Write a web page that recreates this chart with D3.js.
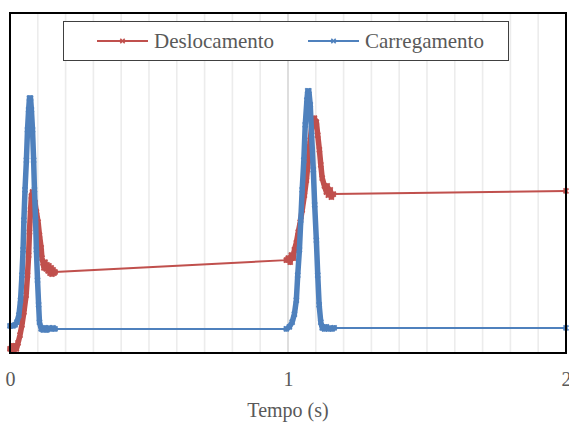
<!DOCTYPE html>
<html>
<head>
<meta charset="utf-8">
<script src="https://cdn.jsdelivr.net/npm/d3@7"></script>
<style>
  body { margin: 0; background: #fff; }
  text { font-family: "Liberation Serif", "Times New Roman", serif; fill: #595959; }
</style>
</head>
<body>
<div id="container"></div>
<script>
const w = 569;
const h = 422;

// series names
const seriesNames = ["Deslocamento", "Carregamento"];
const seriesColors = ["#C0504D", "#4F81BD"];

// Deslocamento: time (s) and value (arbitrary units)
const deslTime = [0.000, 0.007, 0.013, 0.018, 0.023, 0.029, 0.036, 0.043, 0.050, 0.058,
  0.063, 0.067, 0.070, 0.074, 0.077, 0.081, 0.085, 0.090, 0.095, 0.101,
  0.106, 0.112, 0.115, 0.119, 0.122, 0.126, 0.130, 0.133, 0.137, 0.140,
  0.144, 0.148, 0.151, 0.155, 0.158, 0.162,
  0.994, 1.001, 1.008, 1.012, 1.019, 1.023, 1.030, 1.037, 1.044, 1.051,
  1.059, 1.066, 1.073, 1.080, 1.087, 1.095, 1.102, 1.107, 1.113, 1.118,
  1.123, 1.131, 1.138, 1.141, 1.145, 1.152, 1.156, 1.163,
  2.000];
const deslValue = [0.9, 1.8, 0.6, 1.8, 0.9, 2.7, 5.0, 8.0, 11.8, 16.8,
  22.7, 28.6, 35.4, 41.9, 46.0, 47.2, 46.0, 44.0, 41.3, 38.3,
  34.5, 30.7, 27.7, 26.3, 24.8, 26.5, 24.5, 25.7, 23.9, 25.4,
  23.3, 24.8, 23.0, 24.2, 23.3, 23.6,
  27.1, 27.7, 26.5, 28.6, 27.7, 30.1, 32.2, 35.4, 38.3, 41.9,
  46.3, 50.7, 56.6, 62.5, 67.8, 69.0, 67.8, 64.0, 59.6, 55.2,
  51.3, 49.0, 47.2, 49.0, 46.3, 47.8, 45.7, 46.6,
  47.5];

// Carregamento
const carrTime = [0.000, 0.011, 0.018, 0.025, 0.032, 0.038, 0.043, 0.047, 0.050, 0.054,
  0.059, 0.063, 0.067, 0.070, 0.074, 0.077, 0.081, 0.085, 0.088, 0.092,
  0.095, 0.099, 0.103, 0.106, 0.112, 0.119, 0.126, 0.133, 0.140, 0.148,
  0.155, 0.162,
  0.994, 1.005, 1.015, 1.023, 1.030, 1.035, 1.041, 1.046, 1.051, 1.057,
  1.062, 1.068, 1.071, 1.075, 1.080, 1.085, 1.091, 1.096, 1.102, 1.107,
  1.112, 1.118, 1.123, 1.131, 1.138, 1.145, 1.152, 1.159, 1.166,
  2.000];
const carrValue = [7.7, 7.7, 8.0, 8.8, 10.9, 15.3, 22.7, 30.1, 38.9, 47.8,
  56.6, 65.5, 71.4, 74.9, 74.9, 71.4, 65.5, 56.6, 47.8, 38.9,
  30.1, 21.2, 13.9, 8.8, 6.8, 6.5, 7.1, 6.5, 7.1, 6.8,
  7.1, 6.8,
  6.8, 7.4, 8.8, 11.2, 15.3, 22.7, 30.1, 38.9, 47.8, 56.6,
  67.0, 74.3, 77.0, 77.0, 72.9, 64.0, 53.7, 43.4, 33.0, 22.7,
  13.9, 8.8, 7.1, 6.8, 7.4, 6.8, 7.1, 6.8, 7.1,
  7.1];

const xTicks = [0, 1, 2];
const xTitle = "Tempo (s)";

const plot = { left: 10, right: 566, top: 13, bottom: 353 };

const svg = d3.select("#container").append("svg")
  .attr("width", w).attr("height", h);

const x = d3.scaleLinear().domain([0, 2]).range([plot.left, plot.right]);
const y = d3.scaleLinear().domain([0, 100]).range([352, plot.top]);

// vertical gridlines, minor every 0.1, major at 1
svg.append("g").selectAll("line")
  .data(x.ticks(20).filter(d => d > 0 && d < 2))
  .enter().append("line")
  .attr("x1", d => x(d)).attr("x2", d => x(d))
  .attr("y1", plot.top).attr("y2", plot.bottom)
  .attr("stroke", d => Math.abs(d - 1) < 1e-9 ? "#d6d6d6" : "#ececec")
  .attr("stroke-width", 1.6);

// series
const series = [
  { name: seriesNames[0], color: seriesColors[0], pts: deslTime.map((t, i) => [t, deslValue[i]]) },
  { name: seriesNames[1], color: seriesColors[1], pts: carrTime.map((t, i) => [t, carrValue[i]]) }
];

const line = d3.line().x(d => x(d[0])).y(d => y(d[1]));

// split into densely sampled bursts (gaps in acquisition are drawn thin)
function bursts(pts) {
  const out = [];
  let cur = [pts[0]];
  for (let i = 1; i < pts.length; i++) {
    if (pts[i][0] - pts[i - 1][0] > 0.05) { out.push(cur); cur = []; }
    cur.push(pts[i]);
  }
  out.push(cur);
  return out.filter(b => b.length > 1);
}

const xMark = (s) => `M${-s},${-s}L${s},${s}M${-s},${s}L${s},${-s}`;

series.forEach(s => {
  const g = svg.append("g");
  g.append("path").datum(s.pts)
    .attr("d", line)
    .attr("fill", "none")
    .attr("stroke", s.color)
    .attr("stroke-width", 2);
  g.selectAll(".burst").data(bursts(s.pts)).enter().append("path")
    .attr("class", "burst")
    .attr("d", line)
    .attr("fill", "none")
    .attr("stroke", s.color)
    .attr("stroke-width", 5.5)
    .attr("stroke-linejoin", "round")
    .attr("stroke-linecap", "round");
  g.selectAll(".mk").data(s.pts).enter().append("path")
    .attr("class", "mk")
    .attr("transform", d => `translate(${x(d[0])},${y(d[1])})`)
    .attr("d", xMark(2.5))
    .attr("stroke", s.color)
    .attr("stroke-width", 1.8);
});

// plot area border
svg.append("rect")
  .attr("x", plot.left).attr("y", plot.top)
  .attr("width", plot.right - plot.left).attr("height", plot.bottom - plot.top)
  .attr("fill", "none").attr("stroke", "#000").attr("stroke-width", 2);

// x axis labels
const xAxis = d3.axisBottom(x).tickValues(xTicks).tickSize(0).tickPadding(19).tickFormat(d3.format("d"));
const xg = svg.append("g").attr("transform", `translate(0,${plot.bottom})`).call(xAxis);
xg.select(".domain").remove();
xg.selectAll("text").style("font-size", "20px").attr("fill", "#595959")
  .style("font-family", "'Liberation Serif', 'Times New Roman', serif");

svg.append("text")
  .attr("x", 288).attr("y", 417)
  .attr("text-anchor", "middle")
  .style("font-size", "20px")
  .text(xTitle);

// legend
const lg = svg.append("g");
lg.append("rect")
  .attr("x", 63.5).attr("y", 21.5).attr("width", 445).attr("height", 39)
  .attr("fill", "#fff").attr("stroke", "#404040").attr("stroke-width", 1);
const legendX = [97, 308];
series.forEach((s, i) => {
  const lx = legendX[i];
  lg.append("line").attr("x1", lx).attr("x2", lx + 51).attr("y1", 41).attr("y2", 41)
    .attr("stroke", s.color).attr("stroke-width", 2);
  lg.append("path").attr("transform", `translate(${lx + 25.5},41)`)
    .attr("d", xMark(2.2)).attr("stroke", s.color).attr("stroke-width", 1.6);
  lg.append("text").attr("x", lx + 57).attr("y", 48)
    .style("font-size", "21px")
    .text(s.name);
});
</script>
</body>
</html>
